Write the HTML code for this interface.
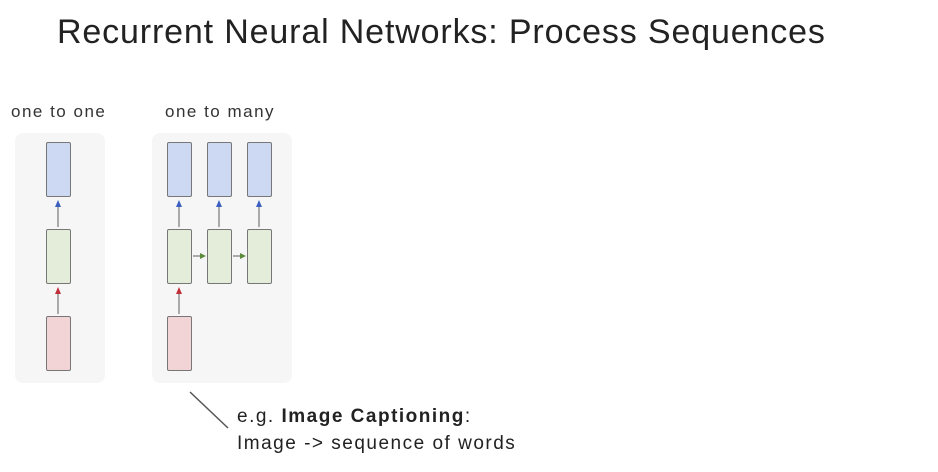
<!DOCTYPE html>
<html><head><style>
body{margin:0;width:938px;height:472px;background:#fff;overflow:hidden;position:relative;font-family:"Liberation Sans",sans-serif}
.t{position:absolute;left:57px;top:13px;font-size:34px;letter-spacing:0.85px;color:#222;white-space:nowrap}
.l{position:absolute;font-size:17px;letter-spacing:1.5px;color:#333}
.p{position:absolute;background:#f6f6f6;border-radius:8px}
.b{position:absolute;width:23px;border:1.5px solid #777;border-radius:2px}
.bl{background:#cdd9f3}.g{background:#e3edd9}.r{background:#f2d3d6}
.c{position:absolute;font-size:19px;letter-spacing:1.5px;color:#222;white-space:nowrap}
</style></head><body>
<div class="t">Recurrent Neural Networks: Process Sequences</div>
<div class="l" style="left:11px;top:102px">one to one</div>
<div class="l" style="left:165px;top:102px">one to many</div>
<div class="p" style="left:15px;top:133px;width:90px;height:250px"></div>
<div class="p" style="left:152px;top:133px;width:140px;height:250px"></div>
<div class="b bl" style="left:46px;top:142px;height:53px"></div>
<div class="b g" style="left:46px;top:229px;height:53px"></div>
<div class="b r" style="left:46px;top:316px;height:53px"></div>
<div class="b bl" style="left:167px;top:142px;height:53px"></div>
<div class="b bl" style="left:207px;top:142px;height:53px"></div>
<div class="b bl" style="left:247px;top:142px;height:53px"></div>
<div class="b g" style="left:167px;top:229px;height:53px"></div>
<div class="b g" style="left:207px;top:229px;height:53px"></div>
<div class="b g" style="left:247px;top:229px;height:53px"></div>
<div class="b r" style="left:167px;top:316px;height:53px"></div>
<svg width="938" height="472" style="position:absolute;left:0;top:0">
<g stroke-width="1.2">
<line x1="58" y1="227" x2="58" y2="204" stroke="#777"/><polygon points="55,207 61,207 58,200" fill="#3b5fc0"/>
<line x1="58" y1="314" x2="58" y2="291" stroke="#777"/><polygon points="55,294 61,294 58,287" fill="#c0303b"/>
<line x1="179" y1="227" x2="179" y2="204" stroke="#777"/><polygon points="176,207 182,207 179,200" fill="#3b5fc0"/>
<line x1="219" y1="227" x2="219" y2="204" stroke="#777"/><polygon points="216,207 222,207 219,200" fill="#3b5fc0"/>
<line x1="259" y1="227" x2="259" y2="204" stroke="#777"/><polygon points="256,207 262,207 259,200" fill="#3b5fc0"/>
<line x1="179" y1="314" x2="179" y2="291" stroke="#777"/><polygon points="176,294 182,294 179,287" fill="#c0303b"/>
<line x1="193" y1="256" x2="203" y2="256" stroke="#777"/><polygon points="200,253 200,259 206,256" fill="#5a8a3a"/>
<line x1="233" y1="256" x2="243" y2="256" stroke="#777"/><polygon points="240,253 240,259 246,256" fill="#5a8a3a"/>
<line x1="190" y1="392" x2="228" y2="428" stroke="#555" stroke-width="1.5"/>
</g></svg>
<div class="c" style="left:237px;top:406px">e.g. <b>Image Captioning</b>:</div>
<div class="c" style="left:237px;top:433px">Image -&gt; sequence of words</div>
</body></html>
